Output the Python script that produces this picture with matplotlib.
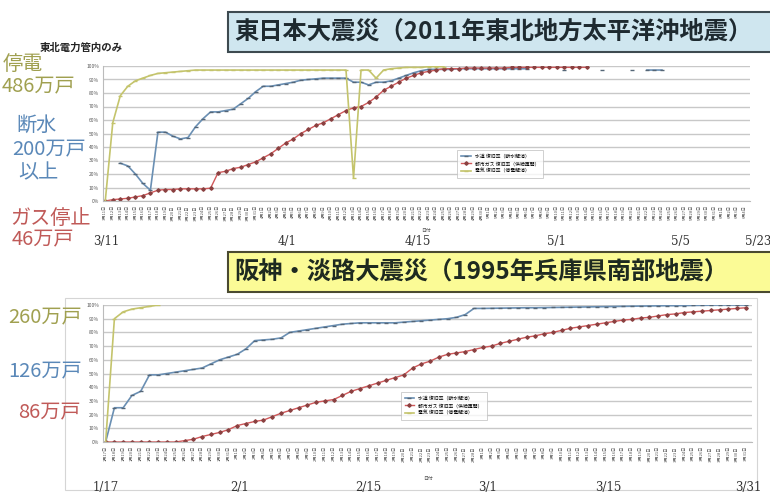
import matplotlib
matplotlib.use("Agg")
import matplotlib.pyplot as plt
import numpy as np
import pandas as pd
from matplotlib.patches import Rectangle

plt.rcParams['font.family'] = ['Noto Sans CJK JP', 'DejaVu Sans']

nan = np.nan

# --- 東日本大震災 (2011) : restoration rate in % ---
top_power = [0, 58, 78, 85, 89, 91, 93, 94.5, 95, 95.5, 96, 96.5,
             97, 97, 97, 97, 97, 97, 97, 97, 97, 97, 97, 97, 97, 97, 97, 97, 97, 97, 97, 97,
             97, 17, 97, 97, 91, 97, 98, 98.5, 99, 99, 99, 99.5, 99.5, 99.5]
top_water = [nan, nan, 28, 26, 20, 13, 8, 51, 51, 48, 46, 47, 55, 61, 66, 66, 67, 68,
             72, 76, 81, 85, 85, 86, 87, 88, 89.5, 90, 90.5, 91, 91, 91, 91, 88, 88, 86,
             88, 88, 89, 91, 93, 95, 96.5, 97.5, 97.5, 97.5, 97.5, 98, 98, 98, 98, 98, 98,
             98, 98, 98, 98, nan, nan, nan, nan, 97, nan, nan, nan, nan, 97, nan, nan, nan,
             97, nan, 97, 97, 97]
top_gas = [0, 1, 1.5, 2, 3, 4, 6, 8, 8.5, 8.5, 9, 9, 9, 9, 9.5, 21, 22, 24, 25, 27, 29,
           32, 35, 39, 43, 46, 50, 53, 56, 58, 61, 64, 67, 69, 70, 73, 77, 82, 85, 88, 91,
           93, 95, 96, 97, 98, 98, 98, 98.5, 98.5, 98.5, 98.5, 98.5, 98.5, 99, 99, 99, 99,
           99, 99, 99, 99, 99, 99, 99]
top_n = 86
top_dates = pd.date_range("2011-03-11", periods=top_n, freq="D")
top_ticklabels = [f"{d.month}月{d.day}日" for d in top_dates]
top_big_labels = ["3/11", "4/1", "4/15", "5/1", "5/5", "5/23"]
top_big_x = [106, 287, 418, 556, 681, 758]

# --- 阪神・淡路大震災 (1995) ---
bot_power = [0, 90, 95, 97, 98, 99, 100]
bot_water = [0, 25, 25, 34, 37, 49, 49, 50, 51, 52, 53, 54, 57, 60, 62, 64, 68, 74,
             74.5, 75, 76, 80, 81, 82, 83, 84, 85, 86, 86.5, 87, 87, 87, 87, 87, 87.5,
             88, 88.5, 89, 89.5, 90, 91, 93, 97.5, 97.5, 97.6, 97.7, 97.8, 97.9, 98, 98,
             98.1, 98.2, 98.3, 98.4, 98.5, 98.6, 98.7, 98.8, 98.9, 99, 99.1, 99.2, 99.3,
             99.4, 99.5, 99.5, 99.6, 99.7, 99.8, 99.9, 100, 100, 100, 100]
bot_gas = [0, 0, 0, 0, 0, 0, 0, 0, 0, 1, 2, 4, 5.5, 7, 9, 12, 13.5, 15, 16, 18.5, 21,
           23, 25, 27, 29, 30, 31, 34, 37, 39, 41, 43, 45, 47, 49, 54, 57, 59, 62, 64,
           65, 66, 67.5, 69, 70, 72, 73.5, 75, 76.5, 77.5, 79, 80, 81.5, 83, 84, 85, 86,
           87, 88, 89, 89.5, 90.5, 91, 92, 93, 93.5, 94.5, 95, 95.5, 96, 96.5, 97, 97.5,
           98]
bot_n = 74
bot_dates = pd.date_range("1995-01-17", periods=bot_n, freq="D")
bot_ticklabels = [f"{d.month}月{d.day}日" for d in bot_dates]
bot_big_labels = ["1/17", "2/1", "2/15", "3/1", "3/15", "3/31"]
bot_big_x = [106, 240, 368, 488, 608, 748]

yticks = list(range(0, 101, 10))
ylabels = [f"{v}%" for v in yticks]

c_power = "#c4c46c"
c_water = "#6a8fb3"
c_gas = "#d0585a"
c_power_txt = "#a0a050"
c_water_txt = "#5a88b8"
c_gas_txt = "#c05a58"

W, H = 770, 496
fig = plt.figure(figsize=(W / 100, H / 100), dpi=100)


def px_axes(x0, y0, x1, y1):
    return fig.add_axes([x0 / W, 1 - y1 / H, (x1 - x0) / W, (y1 - y0) / H])


def style(ax, n, ticklabels):
    ax.set_xlim(-0.3, n - 0.3)
    ax.set_ylim(0, 100)
    ax.set_yticks(yticks)
    ax.set_yticklabels(ylabels, fontsize=3.5, color="#555555")
    ax.set_xticks(range(n))
    ax.set_xticklabels(ticklabels, fontsize=3, rotation=90, color="#555555")
    ax.tick_params(length=0, pad=3)
    ax.grid(axis="y", color="#c8c8c8", linewidth=1.0)
    for s in ["top", "right"]:
        ax.spines[s].set_visible(False)
    ax.spines["left"].set_color("#bbbbbb")
    ax.spines["bottom"].set_color("#bbbbbb")
    ax.set_axisbelow(True)


def draw(ax, power, water, gas, legend_anchor):
    ax.plot(range(len(water)), water, color=c_water, lw=1.2, marker="_", ms=3,
            mec="#556677", label="水道 復旧率（断水解消）")
    ax.plot(range(len(gas)), gas, color=c_gas, lw=1.0, marker="D", ms=1.8,
            mfc="#8a4040", mec="#8a4040", label="都市ガス 復旧率（供給再開）")
    ax.plot(range(len(power)), power, color=c_power, lw=1.2, marker="_", ms=3,
            label="電気 復旧率（停電解消）")
    leg = ax.legend(loc="lower left", bbox_to_anchor=legend_anchor, fontsize=3.5,
                    frameon=True, fancybox=False, edgecolor="#bbbbbb",
                    handlelength=2, borderpad=0.8)
    leg.get_frame().set_linewidth(0.6)


# top chart
ax1 = px_axes(103, 66, 750, 201)
style(ax1, top_n, top_ticklabels)
draw(ax1, top_power, top_water, top_gas, (0.544, 0.156))
ax1.set_xlabel("日付", fontsize=3.5, color="#555555")
ax1.xaxis.set_label_coords(0.5, -0.2)

# bottom chart
ax2 = px_axes(103, 305, 752, 442)
style(ax2, bot_n, bot_ticklabels)
draw(ax2, bot_power, bot_water, bot_gas, (0.455, 0.146))
ax2.set_xlabel("日付", fontsize=3.5, color="#555555")
ax2.xaxis.set_label_coords(0.5, -0.25)

# outer frame of the lower chart
fig.patches.append(Rectangle((65 / W, 1 - 490 / H), (757 - 65) / W, (490 - 298) / H,
                             transform=fig.transFigure, fill=False,
                             edgecolor="#d5d5d5", lw=0.8))

# title boxes
fig.patches.append(Rectangle((228 / W, 1 - 52 / H), (772 - 228) / W, 40 / H,
                             transform=fig.transFigure, facecolor="#cfe6ef",
                             edgecolor="#3d4a50", lw=1.5))
fig.text(234 / W, 1 - 32 / H, "東日本大震災（2011年東北地方太平洋沖地震）",
         fontsize=17.5, fontweight="bold", color="#1e2a30", va="center", ha="left")
fig.patches.append(Rectangle((228 / W, 1 - 292 / H), (772 - 228) / W, 40 / H,
                             transform=fig.transFigure, facecolor="#fbfb96",
                             edgecolor="#4a4a30", lw=1.5))
fig.text(234 / W, 1 - 272 / H, "阪神・淡路大震災（1995年兵庫県南部地震）",
         fontsize=17.5, fontweight="bold", color="#1e2a20", va="center", ha="left")

fig.text(40 / W, 1 - 48 / H, "東北電力管内のみ", fontsize=7.5, fontweight="bold",
         color="#222222", va="center")

# left side labels
side = [
    ("停電", 3, 65, c_power_txt), ("486万戸", 2, 87, c_power_txt),
    ("断水", 16, 125, c_water_txt), ("200万戸", 12, 150, c_water_txt),
    ("以上", 18, 173, c_water_txt),
    ("ガス停止", 10, 218, c_gas_txt), ("46万戸", 12, 240, c_gas_txt),
    ("260万戸", 8, 318, c_power_txt), ("126万戸", 8, 372, c_water_txt),
    ("86万戸", 18, 413, c_gas_txt),
]
for txt, x, y, c in side:
    fig.text(x / W, 1 - y / H, txt, fontsize=14.5, color=c, va="center", ha="left")

# big date labels
for lab, x in zip(top_big_labels, top_big_x):
    fig.text(x / W, 1 - 242 / H, lab, fontsize=8.5, color="#333333",
             family="DejaVu Serif", ha="center", va="center")
for lab, x in zip(bot_big_labels, bot_big_x):
    fig.text(x / W, 1 - 487 / H, lab, fontsize=8.5, color="#333333",
             family="DejaVu Serif", ha="center", va="center")

fig.savefig("out.png", dpi=100)
